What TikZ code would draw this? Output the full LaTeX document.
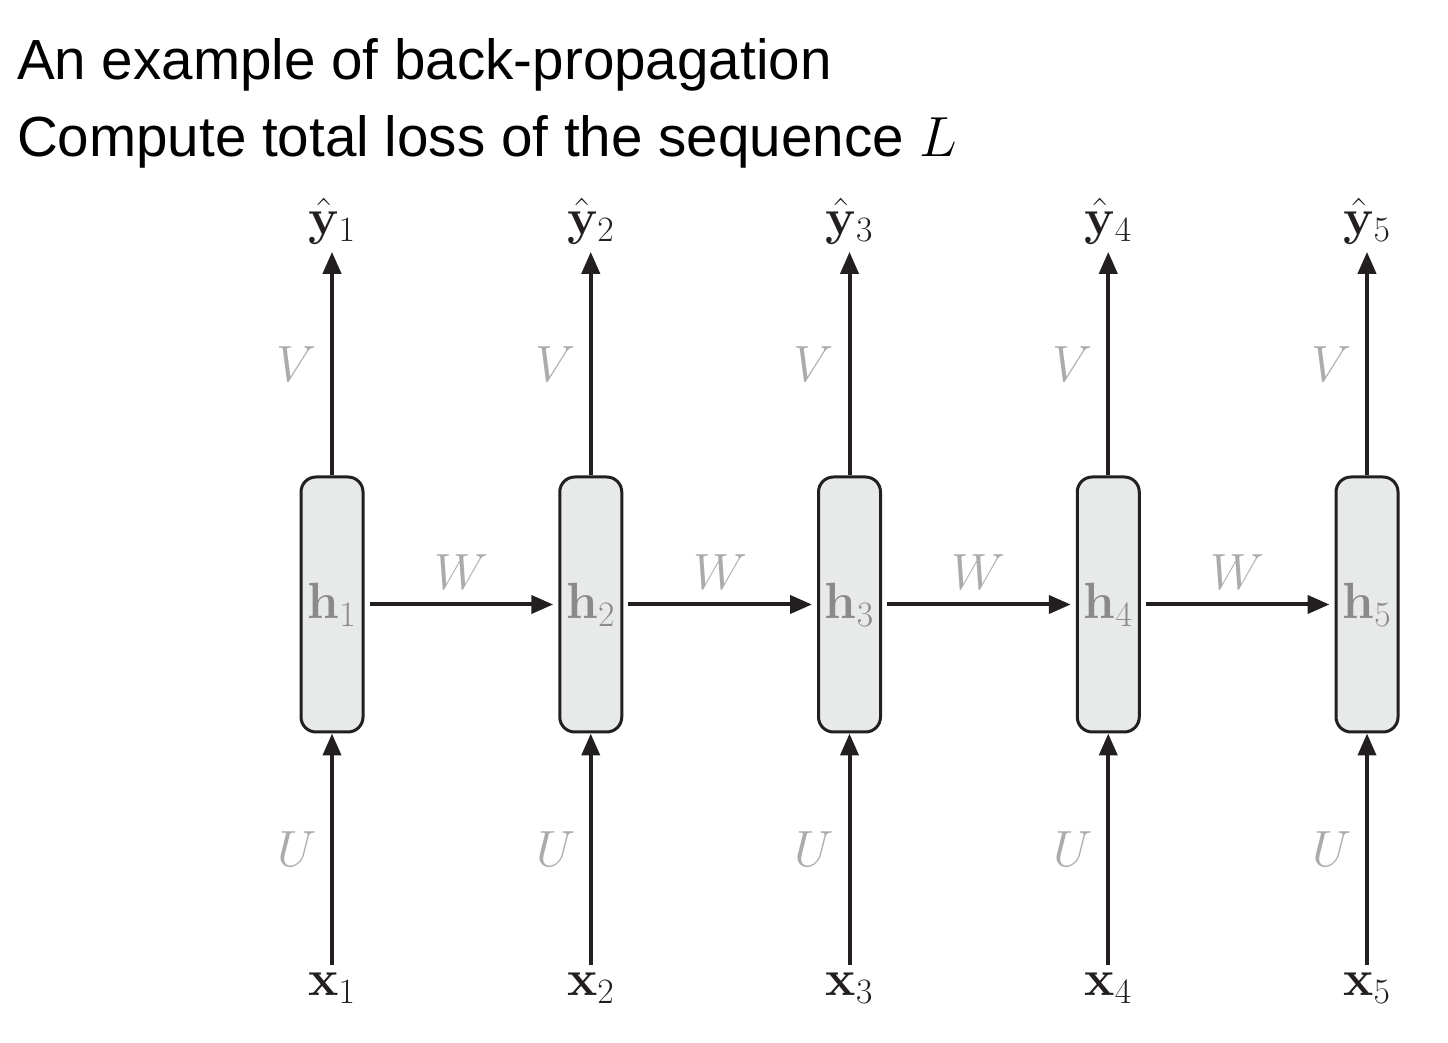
\RequirePackage{fix-cm}
\documentclass[tikz,border=0pt]{standalone}
\usepackage[no-math]{fontspec}
\setmainfont{Liberation Sans}
\usepackage{amsmath,bm}
\usetikzlibrary{arrows.meta}
\definecolor{linecol}{HTML}{231F20}
\definecolor{boxfill}{HTML}{E8E9E9}
\definecolor{wgray}{HTML}{ABABAB}
\definecolor{hgray}{HTML}{8A8A8A}

\begin{document}
\begin{tikzpicture}[
    >={Triangle[length=0.44cm,width=0.36cm]},
    line width=0.08cm,
    every node/.style={font=\fontsize{29}{35}\selectfont, text=linecol},
    cell/.style={draw=linecol, line width=0.06cm, fill=boxfill, rounded corners=0.3cm,
                 minimum width=1.24cm, minimum height=5.1cm, inner sep=0pt, text=hgray},
    wlabel/.style={text=wgray},
    title/.style={anchor=base west, inner sep=0pt, font=\fontsize{32.2}{38}\selectfont, text=black}
]
  \useasboundingbox (0,0) rectangle (28.96,20.84);

  % heading
  \node[title] (t1) at (0.3,19.24) {An example of back-propagation};
  \node[title] (t2) at (0.3,17.70) {Compute total loss of the sequence $L$};

  % nodes
  \foreach \i [evaluate=\i as \xc using 6.64+5.175*(\i-1)] in {1,...,5} {
    \node[cell] (h\i) at (\xc,8.75) {$\mathbf{h}_\i$};
    \node (y\i) at (\xc,16.42) {$\hat{\mathbf{y}}_\i$};
    \node (x\i) at (\xc,1.08) {$\mathbf{x}_\i$};
    \draw[->, draw=linecol] (h\i) -- node[wlabel, left=0.15cm] {$V$} (y\i);
    \draw[->, draw=linecol] (x\i) -- node[wlabel, left=0.15cm] {$U$} (h\i);
  }

  % edges
  \foreach \i [count=\j from 2] in {1,...,4}
    \draw[->, draw=linecol, shorten <=0.1cm, shorten >=0.1cm]
      (h\i) -- node[wlabel, above=0.15cm] {$W$} (h\j);
\end{tikzpicture}
\end{document}
